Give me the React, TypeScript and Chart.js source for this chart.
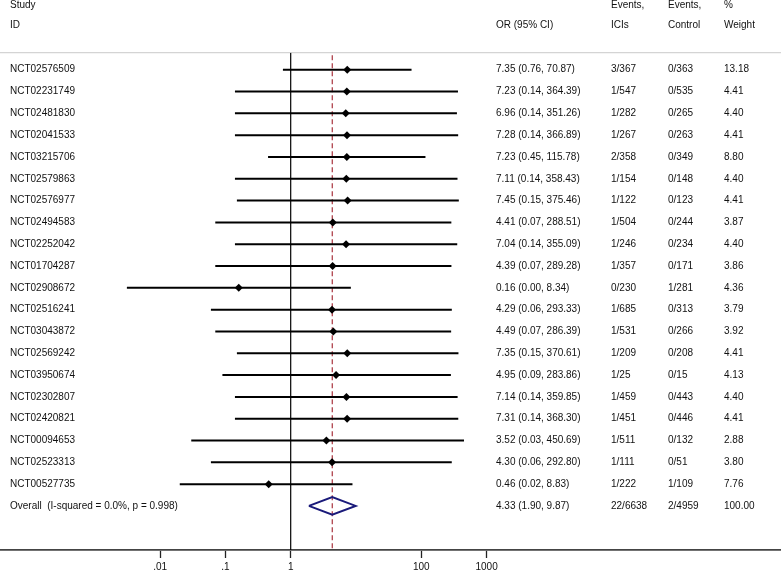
import React, { useEffect, useRef } from "react";
import { Chart, registerables } from "chart.js";

Chart.register(...registerables);

// ---- data ----
const studyIds = [
  "NCT02576509", "NCT02231749", "NCT02481830", "NCT02041533", "NCT03215706",
  "NCT02579863", "NCT02576977", "NCT02494583", "NCT02252042", "NCT01704287",
  "NCT02908672", "NCT02516241", "NCT03043872", "NCT02569242", "NCT03950674",
  "NCT02302807", "NCT02420821", "NCT00094653", "NCT02523313", "NCT00527735",
];
const oddsRatios = [7.35, 7.23, 6.96, 7.28, 7.23, 7.11, 7.45, 4.41, 7.04, 4.39, 0.16, 4.29, 4.49, 7.35, 4.95, 7.14, 7.31, 3.52, 4.30, 0.46];
const ciLower = [0.76, 0.14, 0.14, 0.14, 0.45, 0.14, 0.15, 0.07, 0.14, 0.07, 0.0031, 0.06, 0.07, 0.15, 0.09, 0.14, 0.14, 0.03, 0.06, 0.02];
const ciUpper = [70.87, 364.39, 351.26, 366.89, 115.78, 358.43, 375.46, 288.51, 355.09, 289.28, 8.34, 293.33, 286.39, 370.61, 283.86, 359.85, 368.30, 450.69, 292.80, 8.83];
const eventsICIs = ["3/367", "1/547", "1/282", "1/267", "2/358", "1/154", "1/122", "1/504", "1/246", "1/357", "0/230", "1/685", "1/531", "1/209", "1/25", "1/459", "1/451", "1/511", "1/111", "1/222"];
const eventsControl = ["0/363", "0/535", "0/265", "0/263", "0/349", "0/148", "0/123", "0/244", "0/234", "0/171", "1/281", "0/313", "0/266", "0/208", "0/15", "0/443", "0/446", "0/132", "0/51", "1/109"];
const weights = [13.18, 4.41, 4.40, 4.41, 8.80, 4.40, 4.41, 3.87, 4.40, 3.86, 4.36, 3.79, 3.92, 4.41, 4.13, 4.40, 4.41, 2.88, 3.80, 7.76];

const overallLabel = "Overall  (I-squared = 0.0%, p = 0.998)";
const overallOR = 4.33;
const overallLower = 1.90;
const overallUpper = 9.87;
const overallICIs = "22/6638";
const overallControl = "2/4959";
const overallWeight = 100.0;

const tickValues = [0.01, 0.1, 1, 100, 1000];
const tickLabels = [".01", ".1", "1", "100", "1000"];

const headerRow1 = ["Study", "", "Events,", "Events,", "%"];
const headerRow2 = ["ID", "OR (95% CI)", "ICIs", "Control", "Weight"];

// ---- layout / style ----
const W = 781;
const H = 570;
const FONT = '"Liberation Sans", Arial, Helvetica, sans-serif';
const X_ONE_PX = 290.7;
const DECADE_PX = 65.3;
const AREA_TOP = 52.7;
const AREA_BOTTOM = 549.3;
const ROW0_PX = 69.7;
const ROW_STEP = 21.78;
const colX = [10, 496, 611, 668, 724];
const headerY = [5, 25.5];
const diamondHalfPx = 8.8;

const xMin = Math.pow(10, -X_ONE_PX / DECADE_PX);
const xMax = Math.pow(10, (W - X_ONE_PX) / DECADE_PX);
const yMin = -(ROW0_PX - AREA_TOP) / ROW_STEP;
const yMax = (AREA_BOTTOM - ROW0_PX) / ROW_STEP;
const overallRow = studyIds.length;
const dHalf = diamondHalfPx / ROW_STEP;

const fmt = (v: number) => v.toFixed(2);

const tablePlugin = {
  id: "forestTable",
  beforeDatasetsDraw(chart: any) {
    const ctx = chart.ctx;
    const area = chart.chartArea;
    ctx.save();
    ctx.strokeStyle = "#d4d4d4";
    ctx.lineWidth = 1.2;
    ctx.beginPath();
    ctx.moveTo(0, area.top);
    ctx.lineTo(W, area.top);
    ctx.stroke();
    ctx.restore();
  },
  afterDraw(chart: any) {
    const ctx = chart.ctx;
    const ys = chart.scales.y;
    ctx.save();
    ctx.font = `10px ${FONT}`;
    ctx.fillStyle = "#111";
    ctx.textBaseline = "middle";
    ctx.textAlign = "left";
    headerRow1.forEach((t, c) => t && ctx.fillText(t, colX[c], headerY[0]));
    headerRow2.forEach((t, c) => t && ctx.fillText(t, colX[c], headerY[1]));
    studyIds.forEach((id, i) => {
      const y = ys.getPixelForValue(i);
      ctx.fillText(id, colX[0], y);
      ctx.fillText(`${fmt(oddsRatios[i])} (${fmt(ciLower[i])}, ${fmt(ciUpper[i])})`, colX[1], y);
      ctx.fillText(eventsICIs[i], colX[2], y);
      ctx.fillText(eventsControl[i], colX[3], y);
      ctx.fillText(fmt(weights[i]), colX[4], y);
    });
    const yo = ys.getPixelForValue(overallRow);
    ctx.fillText(overallLabel, colX[0], yo);
    ctx.fillText(`${fmt(overallOR)} (${fmt(overallLower)}, ${fmt(overallUpper)})`, colX[1], yo);
    ctx.fillText(overallICIs, colX[2], yo);
    ctx.fillText(overallControl, colX[3], yo);
    ctx.fillText(fmt(overallWeight), colX[4], yo);
    ctx.restore();
  },
};

export default function App() {
  const ref = useRef<HTMLCanvasElement | null>(null);

  useEffect(() => {
    if (!ref.current) return;
    const datasets: any[] = [];

    // reference line at OR = 1
    datasets.push({
      type: "line",
      data: [{ x: 1, y: yMin }, { x: 1, y: yMax }],
      borderColor: "#000",
      borderWidth: 1.2,
      pointRadius: 0,
      order: 5,
    });
    // overall effect dashed line
    datasets.push({
      type: "line",
      data: [{ x: overallOR, y: yMin + 0.12 }, { x: overallOR, y: yMax }],
      borderColor: "#a8323c",
      borderWidth: 1.2,
      borderDash: [5, 3],
      pointRadius: 0,
      order: 4,
    });
    // CI lines
    studyIds.forEach((_, i) => {
      datasets.push({
        type: "line",
        data: [{ x: ciLower[i], y: i }, { x: ciUpper[i], y: i }],
        borderColor: "#000",
        borderWidth: 2,
        pointRadius: 0,
        order: 3,
      });
    });
    // point estimates
    datasets.push({
      type: "scatter",
      data: oddsRatios.map((v, i) => ({ x: v, y: i })),
      pointStyle: "rectRot",
      pointRadius: 4,
      backgroundColor: "#000",
      borderColor: "#000",
      borderWidth: 0,
      order: 1,
    });
    // overall diamond
    datasets.push({
      type: "line",
      data: [
        { x: overallLower, y: overallRow },
        { x: overallOR, y: overallRow - dHalf },
        { x: overallUpper, y: overallRow },
        { x: overallOR, y: overallRow + dHalf },
        { x: overallLower, y: overallRow },
      ],
      borderColor: "#1a1a7a",
      borderWidth: 2,
      pointRadius: 0,
      tension: 0,
      order: 2,
    });

    const chart = new Chart(ref.current, {
      type: "scatter",
      data: { datasets },
      options: {
        animation: false,
        responsive: false,
        maintainAspectRatio: false,
        layout: { autoPadding: false, padding: { top: AREA_TOP, bottom: -6, left: 0, right: 0 } },
        plugins: { legend: { display: false }, tooltip: { enabled: false } },
        scales: {
          x: {
            type: "logarithmic",
            min: xMin,
            max: xMax,
            afterBuildTicks: (scale: any) => {
              scale.ticks = tickValues.map((v) => ({ value: v }));
            },
            grid: {
              drawOnChartArea: false,
              drawTicks: true,
              tickLength: 8,
              tickWidth: 1.3,
              tickColor: "#222",
            },
            border: { display: true, color: "#444", width: 1.8 },
            ticks: {
              autoSkip: false,
              maxRotation: 0,
              padding: 4,
              color: "#111",
              font: { family: FONT, size: 10, lineHeight: 1 },
              callback: (v: any) => {
                const idx = tickValues.findIndex((t) => Math.abs(t - Number(v)) / t < 1e-6);
                return idx >= 0 ? tickLabels[idx] : "";
              },
            },
          },
          y: {
            type: "linear",
            display: false,
            reverse: true,
            min: yMin,
            max: yMax,
          },
        },
      },
      plugins: [tablePlugin],
    } as any);
    return () => chart.destroy();
  }, []);

  return (
    <div style={{ position: "absolute", left: 0, top: 0, width: W, height: H, background: "#fff" }}>
      <canvas ref={ref} width={W} height={H} style={{ display: "block", width: W, height: H }} />
    </div>
  );
}
